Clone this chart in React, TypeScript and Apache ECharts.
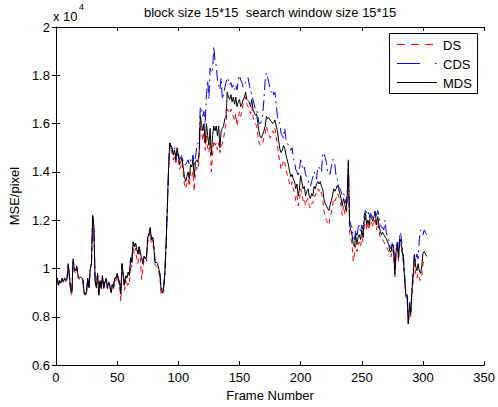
import React, { useEffect, useRef } from "react";
import * as echarts from "echarts";

const TITLE = "block size 15*15  search window size 15*15";
const X_NAME = "Frame Number";
const Y_NAME = "MSE/pixel";
const SERIES_NAMES = ["DS", "CDS", "MDS"];
const SERIES_COLORS = ["#ff0000", "#0000ff", "#000000"];

// values in units of 10^4, frames 1..303
const MDS = [
  0.96, 0.93, 0.95, 0.94, 0.96, 0.945, 0.96, 0.95, 0.955, 1.02,
  0.97, 0.91, 0.90, 1.04, 1.00, 0.99, 1.01, 0.97, 0.96, 0.965,
  0.96, 0.955, 0.90, 0.89, 0.905, 0.96, 0.92, 1.00, 1.02, 1.22,
  1.17, 0.95, 0.92, 0.98, 0.89, 0.95, 0.92, 0.97, 0.92, 0.94,
  0.96, 0.92, 0.94, 0.93, 0.90, 0.93, 0.92, 0.96, 0.96, 0.98,
  0.955, 0.94, 0.895, 1.02, 0.975, 0.93, 0.97, 0.96, 0.985, 0.97,
  1.045, 1.025, 1.11, 1.09, 1.105, 1.08, 1.06, 1.09, 1.06, 1.045,
  1.02, 1.05, 1.04, 1.045, 1.13, 1.14, 1.17, 1.12, 1.13, 1.09,
  1.025, 1.025, 1.02, 1.00, 0.975, 0.91, 0.90, 0.92, 0.98, 1.10,
  1.25, 1.41, 1.52, 1.50, 1.49, 1.47, 1.49, 1.45, 1.50, 1.47,
  1.43, 1.44, 1.46, 1.42, 1.38, 1.36, 1.38, 1.40, 1.37, 1.43,
  1.42, 1.45, 1.38, 1.44, 1.45, 1.44, 1.48, 1.63, 1.60, 1.57,
  1.60, 1.52, 1.60, 1.55, 1.51, 1.58, 1.47, 1.55, 1.59, 1.57,
  1.59, 1.55, 1.59, 1.50, 1.57, 1.58, 1.59, 1.62, 1.63, 1.73,
  1.71, 1.70, 1.72, 1.69, 1.71, 1.68, 1.71, 1.67, 1.69, 1.70,
  1.67, 1.68, 1.70, 1.71, 1.73, 1.70, 1.695, 1.69, 1.67, 1.70,
  1.66, 1.645, 1.635, 1.64, 1.60, 1.565, 1.545, 1.54, 1.555, 1.57,
  1.59, 1.63, 1.62, 1.625, 1.615, 1.61, 1.60, 1.605, 1.615, 1.59,
  1.57, 1.53, 1.495, 1.48, 1.49, 1.51, 1.50, 1.47, 1.45, 1.43,
  1.40, 1.38, 1.39, 1.37, 1.36, 1.33, 1.35, 1.30, 1.33, 1.385,
  1.36, 1.33, 1.34, 1.30, 1.32, 1.33, 1.30, 1.29, 1.31, 1.30,
  1.34, 1.33, 1.35, 1.36, 1.35, 1.36, 1.34, 1.33, 1.29, 1.27,
  1.26, 1.25, 1.24, 1.26, 1.28, 1.30, 1.33, 1.32, 1.33, 1.344,
  1.33, 1.31, 1.29, 1.26, 1.29, 1.27, 1.24, 1.29, 1.44, 1.18,
  1.16, 1.14, 1.10, 1.09, 1.14, 1.10, 1.13, 1.14, 1.12, 1.16,
  1.13, 1.20, 1.23, 1.18, 1.20, 1.18, 1.22, 1.21, 1.195, 1.215,
  1.236, 1.18, 1.215, 1.18, 1.155, 1.14, 1.15, 1.14, 1.13, 1.125,
  1.11, 1.10, 1.07, 1.07, 1.10, 1.085, 0.975, 1.07, 1.10, 1.045,
  1.125, 1.11, 1.075, 1.04, 0.96, 0.89, 0.89, 0.77, 0.85, 0.81,
  0.91, 0.975, 1.057, 1.01, 0.99, 1.02, 0.99, 0.98, 1.01, 1.064,
  1.07, 1.06, 1.05,
];

const DS = [
  0.955, 0.925, 0.945, 0.935, 0.955, 0.94, 0.955, 0.945, 0.95, 1.01,
  0.96, 0.90, 0.89, 1.03, 0.99, 0.98, 1.00, 0.96, 0.955, 0.96,
  0.955, 0.95, 0.895, 0.885, 0.90, 0.955, 0.915, 0.995, 1.015, 1.215,
  1.165, 0.945, 0.915, 0.975, 0.885, 0.945, 0.915, 0.965, 0.915, 0.935,
  0.955, 0.915, 0.935, 0.925, 0.895, 0.925, 0.915, 0.95, 0.95, 0.97,
  0.945, 0.925, 0.865, 1.01, 0.96, 0.91, 0.95, 0.925, 0.94, 0.93,
  1.02, 1.005, 1.09, 1.06, 1.085, 1.04, 1.02, 1.07, 1.04, 0.955,
  1.00, 1.035, 1.025, 1.03, 1.11, 1.12, 1.15, 1.10, 1.10, 1.08,
  1.015, 1.01, 1.005, 0.985, 0.96, 0.89, 0.89, 0.905, 0.97, 1.09,
  1.24, 1.40, 1.51, 1.49, 1.475, 1.45, 1.47, 1.43, 1.48, 1.45,
  1.41, 1.42, 1.44, 1.39, 1.35, 1.33, 1.35, 1.37, 1.34, 1.40,
  1.38, 1.40, 1.32, 1.40, 1.42, 1.41, 1.45, 1.60, 1.57, 1.53,
  1.56, 1.49, 1.55, 1.50, 1.48, 1.52, 1.40, 1.47, 1.53, 1.51,
  1.52, 1.49, 1.52, 1.48, 1.50, 1.52, 1.54, 1.57, 1.60, 1.66,
  1.65, 1.64, 1.66, 1.64, 1.63, 1.61, 1.64, 1.59, 1.62, 1.65,
  1.63, 1.65, 1.68, 1.69, 1.71, 1.68, 1.67, 1.66, 1.64, 1.67,
  1.63, 1.61, 1.60, 1.59, 1.55, 1.52, 1.51, 1.51, 1.52, 1.54,
  1.56, 1.59, 1.57, 1.56, 1.54, 1.55, 1.57, 1.56, 1.58, 1.55,
  1.51, 1.47, 1.44, 1.41, 1.43, 1.45, 1.44, 1.41, 1.39, 1.37,
  1.35, 1.34, 1.36, 1.33, 1.31, 1.28, 1.30, 1.26, 1.28, 1.33,
  1.31, 1.28, 1.29, 1.26, 1.28, 1.29, 1.26, 1.25, 1.27, 1.27,
  1.30, 1.30, 1.32, 1.33, 1.32, 1.33, 1.31, 1.29, 1.24, 1.22,
  1.20, 1.19, 1.18, 1.21, 1.23, 1.26, 1.29, 1.28, 1.29, 1.31,
  1.30, 1.28, 1.26, 1.22, 1.26, 1.23, 1.22, 1.26, 1.42, 1.15,
  1.13, 1.10, 1.03, 1.06, 1.10, 1.07, 1.10, 1.11, 1.09, 1.13,
  1.11, 1.18, 1.21, 1.16, 1.18, 1.16, 1.20, 1.19, 1.17, 1.19,
  1.21, 1.16, 1.19, 1.16, 1.13, 1.12, 1.12, 1.11, 1.10, 1.09,
  1.08, 1.07, 1.05, 1.05, 1.08, 1.06, 0.965, 1.05, 1.08, 1.03,
  1.10, 1.09, 1.06, 1.02, 0.95, 0.88, 0.88, 0.77, 0.84, 0.80,
  0.89, 0.95, 1.02, 0.98, 0.96, 0.98, 0.96, 0.95, 0.97, 1.02,
  1.03, 1.035, 1.03,
];

const CDS = [
  0.96, 0.935, 0.95, 0.945, 0.96, 0.95, 0.96, 0.955, 0.955, 1.015,
  0.97, 0.915, 0.905, 1.035, 1.00, 0.99, 1.005, 0.97, 0.96, 0.965,
  0.96, 0.955, 0.905, 0.895, 0.905, 0.96, 0.925, 1.00, 1.02, 1.215,
  1.17, 0.955, 0.925, 0.98, 0.895, 0.95, 0.925, 0.97, 0.925, 0.945,
  0.96, 0.925, 0.945, 0.935, 0.905, 0.935, 0.925, 0.96, 0.96, 0.98,
  0.96, 0.945, 0.90, 1.02, 0.98, 0.935, 0.97, 0.965, 0.985, 0.975,
  1.045, 1.03, 1.11, 1.095, 1.105, 1.085, 1.065, 1.09, 1.065, 1.045,
  1.025, 1.05, 1.045, 1.05, 1.13, 1.14, 1.165, 1.125, 1.13, 1.095,
  1.03, 1.025, 1.02, 1.00, 0.98, 0.915, 0.905, 0.925, 0.985, 1.10,
  1.25, 1.41, 1.52, 1.51, 1.50, 1.48, 1.50, 1.46, 1.50, 1.48,
  1.45, 1.46, 1.47, 1.44, 1.43, 1.43, 1.44, 1.45, 1.43, 1.45,
  1.44, 1.47, 1.43, 1.46, 1.50, 1.52, 1.52, 1.67, 1.66, 1.63,
  1.65, 1.60, 1.72, 1.78, 1.70, 1.83, 1.81, 1.82, 1.92, 1.86,
  1.84, 1.78, 1.76, 1.74, 1.79, 1.70, 1.72, 1.75, 1.77, 1.79,
  1.78, 1.76, 1.77, 1.75, 1.76, 1.74, 1.76, 1.74, 1.78, 1.80,
  1.78, 1.77, 1.75, 1.76, 1.77, 1.78, 1.79, 1.76, 1.74, 1.72,
  1.70, 1.68, 1.66, 1.66, 1.63, 1.60, 1.60, 1.61, 1.64, 1.70,
  1.78, 1.81, 1.79, 1.77, 1.74, 1.73, 1.74, 1.72, 1.73, 1.68,
  1.63, 1.61, 1.60, 1.56, 1.55, 1.54, 1.58, 1.535, 1.52, 1.51,
  1.50, 1.49, 1.50, 1.46, 1.44, 1.41, 1.40, 1.38, 1.41, 1.45,
  1.43, 1.41, 1.42, 1.39, 1.38, 1.37, 1.35, 1.34, 1.36, 1.38,
  1.40, 1.39, 1.37, 1.42, 1.42, 1.41, 1.40, 1.47, 1.48, 1.46,
  1.44, 1.40, 1.40, 1.39, 1.42, 1.45, 1.45, 1.43, 1.38, 1.37,
  1.34, 1.33, 1.32, 1.30, 1.31, 1.30, 1.27, 1.31, 1.45, 1.20,
  1.18, 1.17, 1.13, 1.12, 1.16, 1.13, 1.17, 1.18, 1.15, 1.18,
  1.16, 1.22, 1.24, 1.23, 1.24, 1.21, 1.23, 1.22, 1.21, 1.23,
  1.24, 1.22, 1.24, 1.22, 1.19, 1.17, 1.17, 1.16, 1.20, 1.15,
  1.13, 1.12, 1.09, 1.08, 1.11, 1.10, 0.99, 1.08, 1.11, 1.06,
  1.15, 1.14, 1.09, 1.05, 0.97, 0.90, 0.90, 0.78, 0.86, 0.82,
  0.92, 0.99, 1.06, 1.03, 1.06, 1.04, 1.12, 1.16, 1.15, 1.14,
  1.16, 1.15, 1.14,
];

const X_MIN = 0;
const X_MAX = 350;
const X_STEP = 50;
const Y_MIN = 0.6;
const Y_MAX = 2;
const Y_STEP = 0.2;

const FONT = "'Liberation Sans', Arial, Helvetica, sans-serif";

const DS_DASH = [5, 4];
const CDS_DASH = [11, 4, 2, 4];

const toPairs = (arr: number[]) => arr.map((v, i) => [i + 1, v]);

export default function App() {
  const ref = useRef<HTMLDivElement>(null);

  useEffect(() => {
    document.body.style.margin = "0";
    if (!ref.current) return;
    const chart = echarts.init(ref.current, undefined, { renderer: "svg" });

    const axisCommon = {
      axisLine: { show: true, lineStyle: { color: "#000", width: 1 } },
      axisTick: { show: true, inside: true, length: 4, lineStyle: { color: "#000" } },
      splitLine: { show: false },
    };

    const legendDashes = [[8, 6], [23, 15, 1.5, 10], null];
    const legendRows = [44, 63, 82];
    const legendGraphics: any[] = [
      {
        type: "rect",
        shape: { x: 389.5, y: 33.5, width: 88, height: 60 },
        style: { fill: "#fff", stroke: "#000", lineWidth: 1 },
        z: 100,
      },
    ];
    SERIES_NAMES.forEach((name, i) => {
      legendGraphics.push({
        type: "line",
        shape: { x1: 397, y1: legendRows[i] + 0.5, x2: 437, y2: legendRows[i] + 0.5 },
        style: {
          stroke: SERIES_COLORS[i],
          lineWidth: 1,
          lineDash: legendDashes[i] || undefined,
        },
        z: 101,
      });
      legendGraphics.push({
        type: "text",
        x: 443,
        y: legendRows[i] + 1,
        style: {
          text: name,
          fontSize: 13,
          fontFamily: FONT,
          fill: "#000",
          textAlign: "left",
          textVerticalAlign: "middle",
        },
        z: 101,
      });
    });

    chart.setOption({
      animation: false,
      backgroundColor: "#fff",
      textStyle: { fontFamily: FONT },
      grid: { left: 53, right: 11, top: 27, bottom: 39, containLabel: false },
      graphic: [
        {
          type: "text",
          x: 270,
          y: 12,
          style: {
            text: TITLE,
            fontSize: 13,
            fontFamily: FONT,
            fill: "#000",
            textAlign: "center",
            textVerticalAlign: "middle",
          },
        },
        {
          type: "text",
          x: 53,
          y: 16,
          style: {
            text: "x 10",
            fontSize: 13,
            fontFamily: FONT,
            fill: "#000",
            textAlign: "left",
            textVerticalAlign: "middle",
          },
        },
        {
          type: "text",
          x: 79,
          y: 7,
          style: {
            text: "4",
            fontSize: 9,
            fontFamily: FONT,
            fill: "#000",
            textAlign: "left",
            textVerticalAlign: "middle",
          },
        },
        ...legendGraphics,
      ],
      xAxis: [
        {
          type: "value",
          min: X_MIN,
          max: X_MAX,
          interval: X_STEP,
          position: "bottom",
          name: X_NAME,
          nameLocation: "middle",
          nameGap: 22,
          nameTextStyle: { fontSize: 13, color: "#000", fontFamily: FONT },
          axisLabel: { fontSize: 13, color: "#000", margin: 6, fontFamily: FONT },
          ...axisCommon,
        },
        {
          type: "value",
          min: X_MIN,
          max: X_MAX,
          interval: X_STEP,
          position: "top",
          axisLabel: { show: false },
          ...axisCommon,
        },
      ],
      yAxis: [
        {
          type: "value",
          min: Y_MIN,
          max: Y_MAX,
          interval: Y_STEP,
          position: "left",
          name: Y_NAME,
          nameLocation: "middle",
          nameGap: 33,
          nameTextStyle: { fontSize: 13, color: "#000", fontFamily: FONT },
          axisLabel: {
            fontSize: 13,
            color: "#000",
            margin: 6,
            fontFamily: FONT,
            formatter: (v: number) => String(Number(v.toFixed(1))),
          },
          ...axisCommon,
        },
        {
          type: "value",
          min: Y_MIN,
          max: Y_MAX,
          interval: Y_STEP,
          position: "right",
          axisLabel: { show: false },
          ...axisCommon,
        },
      ],
      series: [
        {
          name: SERIES_NAMES[0],
          type: "line",
          data: toPairs(DS),
          symbol: "none",
          color: SERIES_COLORS[0],
          lineStyle: { color: SERIES_COLORS[0], width: 1, type: DS_DASH },
          z: 2,
        },
        {
          name: SERIES_NAMES[1],
          type: "line",
          data: toPairs(CDS),
          symbol: "none",
          color: SERIES_COLORS[1],
          lineStyle: { color: SERIES_COLORS[1], width: 1, type: CDS_DASH },
          z: 3,
        },
        {
          name: SERIES_NAMES[2],
          type: "line",
          data: toPairs(MDS),
          symbol: "none",
          color: SERIES_COLORS[2],
          lineStyle: { color: SERIES_COLORS[2], width: 1, type: "solid" },
          z: 4,
        },
      ],
    });

    return () => chart.dispose();
  }, []);

  return <div ref={ref} style={{ width: 498, height: 407 }} />;
}
